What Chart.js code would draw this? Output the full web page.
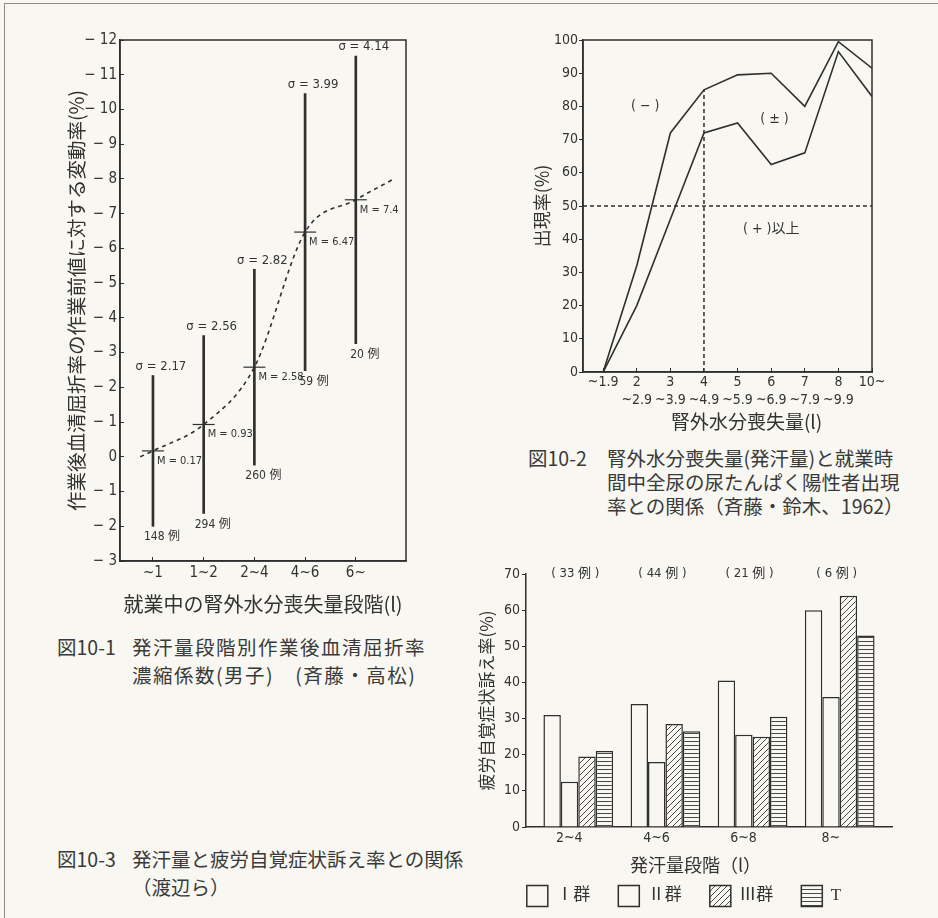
<!DOCTYPE html>
<html lang="ja">
<head>
<meta charset="utf-8">
<title>発汗量と生体反応</title>
<script src="https://cdn.jsdelivr.net/npm/chart.js@4.4.1/dist/chart.umd.min.js"></script>
<style>
  html, body { margin: 0; padding: 0; background: #f8f7f1; }
  #page { position: relative; width: 938px; height: 918px; overflow: hidden; background: #f8f7f1; }
  .frame { position: absolute; left: 4px; top: 3px; width: 940px; height: 920px;
           border-left: 1.5px solid #8c8c88; border-top: 1.5px solid #8c8c88; }
  canvas { position: absolute; }
  .cap { position: absolute; font-family: 'Noto Sans CJK JP', sans-serif; color: #3a3a3a;
         font-size: 19.5px; white-space: nowrap; line-height: 28px; }
</style>
</head>
<body>
<div id="page">
  <div class="frame"></div>

  <canvas id="fig1" width="380" height="600" style="left:40px;top:20px"></canvas>
  <canvas id="fig2" width="400" height="420" style="left:500px;top:20px"></canvas>
  <canvas id="fig3" width="430" height="362" style="left:476px;top:555px"></canvas>

  <div class="cap" style="left:57px;top:633px;">図10-1</div>
  <div class="cap" style="left:132px;top:633px;letter-spacing:1.5px;">発汗量段階別作業後血清屈折率<br>濃縮係数(男子)　(斉藤・高松)</div>

  <div class="cap" style="left:528px;top:446px;line-height:24px;">図10-2</div>
  <div class="cap" style="left:607px;top:446px;line-height:24px;">腎外水分喪失量(発汗量)と就業時<br>間中全尿の尿たんぱく陽性者出現<br>率との関係（斉藤・鈴木、1962）</div>

  <div class="cap" style="left:57px;top:845px;">図10-3</div>
  <div class="cap" style="left:132px;top:845px;">発汗量と疲労自覚症状訴え率との関係<br>（渡辺ら）</div>
</div>

<script>
// ---------- 図10-1: serum refractive index change by sweat stage ----------
const stageLabels = ['~1', '1~2', '2~4', '4~6', '6~'];
const meanChange = [0.17, 0.93, 2.58, 6.47, 7.4];
const sdChange = [2.17, 2.56, 2.82, 3.99, 4.14];
const stageCases = [148, 294, 260, 59, 20];
// hand-drawn trend curve through the stage means
const trendStage = [-0.25, 0, 1, 2, 3, 4, 4.75];
const trendChange = [0.0, 0.17, 0.93, 2.58, 6.47, 7.4, 8.0];

// ---------- 図10-2: urinary protein positive rate by water loss ----------
const lossTop = ['~1.9', '2', '3', '4', '5', '6', '7', '8', '10~'];
const lossBottom = ['', '~2.9', '~3.9', '~4.9', '~5.9', '~6.9', '~7.9', '~9.9', ''];
const rateTraceOrMore = [0, 32, 72, 85, 89.5, 90, 80, 99.5, 91.5];
const ratePositive = [0, 20, 46, 72, 75, 62.5, 66, 96.5, 83];
const referenceRate = 50;
const referenceStage = 3;

// ---------- 図10-3: fatigue complaint rate by sweat stage ----------
const sweatStages = ['2~4', '4~6', '6~8', '8~'];
const sweatCases = [33, 44, 21, 6];
const groupI = [31, 34, 40.5, 60];
const groupII = [12.5, 18, 25.5, 36];
const groupIII = [19.5, 28.5, 25, 64];
const groupTotal = [21, 26.5, 30.5, 53];

const INK = '#2f2f2f';
const TEXT = '#333333';
const PAPER = '#f8f7f1';
const NUM = "'Liberation Sans Narrow','DejaVu Sans Condensed','Noto Sans CJK JP',sans-serif";
const JP = "'Noto Sans CJK JP',sans-serif";
const LEGEND = "'Liberation Serif','Noto Sans CJK JP',serif";

Chart.defaults.color = TEXT;
Chart.defaults.animation = false;
Chart.defaults.events = [];
Chart.defaults.plugins.tooltip.enabled = false;

const fixWidth = w => s => { s.width = w; };
const fixHeight = h => s => { s.height = h; };
const indexTicks = list => s => { s.ticks = list.map((_, i) => ({ value: i })); };

// box around the plotting area
const plotFrame = {
  id: 'plotFrame',
  afterDraw(chart) {
    const { ctx, chartArea: a } = chart;
    ctx.save();
    ctx.strokeStyle = INK;
    ctx.lineWidth = 1.5;
    ctx.strokeRect(a.left, a.top, a.right - a.left, a.bottom - a.top);
    ctx.restore();
  }
};

// ---------- 図10-1 ----------
const stageNotes = {
  id: 'stageNotes',
  afterDatasetsDraw(chart) {
    const { ctx, scales: { x, y } } = chart;
    ctx.save();
    ctx.fillStyle = TEXT;
    ctx.textBaseline = 'middle';
    meanChange.forEach((m, i) => {
      const px = x.getPixelForValue(i);
      const top = y.getPixelForValue(m + sdChange[i]);
      const bottom = y.getPixelForValue(m - sdChange[i]);
      const mid = y.getPixelForValue(m);
      ctx.textAlign = 'center';
      ctx.font = '13px ' + NUM;
      ctx.fillText('σ = ' + sdChange[i].toFixed(2), px + 8, top - 9);
      ctx.font = '12px ' + NUM;
      ctx.fillText(stageCases[i] + ' 例', px + 9, bottom + 11);
      ctx.textAlign = 'left';
      ctx.font = '11px ' + NUM;
      ctx.fillText('M = ' + m, px + 4, mid + 10);
    });
    ctx.restore();
  }
};

new Chart(document.getElementById('fig1'), {
  type: 'bar',
  data: {
    datasets: [
      {
        type: 'line',
        data: trendStage.map((s, i) => ({ x: s, y: trendChange[i] })),
        borderColor: INK, borderWidth: 1.6, borderDash: [4, 4],
        pointRadius: 0, cubicInterpolationMode: 'monotone', fill: false
      },
      {
        type: 'scatter',
        data: meanChange.map((m, i) => ({ x: i, y: m })),
        pointStyle: 'line', pointRadius: 11, borderColor: INK, borderWidth: 1.2
      },
      {
        type: 'bar',
        data: meanChange.map((m, i) => ({ x: i, y: [m - sdChange[i], m + sdChange[i]] })),
        backgroundColor: INK, borderWidth: 0, barThickness: 2
      }
    ]
  },
  options: {
    responsive: false,
    layout: { padding: { top: 20, right: 14, bottom: 0, left: 0 } },
    plugins: { legend: { display: false } },
    scales: {
      x: {
        type: 'linear', min: -0.65, max: 4.99, offset: false,
        afterBuildTicks: indexTicks(stageLabels),
        afterFit: fixHeight(59),
        ticks: { callback: v => stageLabels[v], font: { family: NUM, size: 15 }, padding: 7, maxRotation: 0, autoSkip: false, color: TEXT },
        grid: { drawOnChartArea: false, tickLength: -4, color: INK, offset: false },
        border: { color: INK, width: 1.5 },
        title: { display: true, text: '就業中の腎外水分喪失量段階(l)', font: { family: JP, size: 20, lineHeight: 1.2 }, padding: { top: 0, bottom: 4 }, color: TEXT }
      },
      y: {
        min: -3, max: 12,
        afterFit: fixWidth(80),
        ticks: { stepSize: 1, callback: v => v === 0 ? '0' : '− ' + Math.abs(v), font: { family: NUM, size: 15 }, padding: 7, color: TEXT },
        grid: { drawOnChartArea: false, tickLength: -4, color: INK },
        border: { color: INK, width: 1.5 },
        title: { display: true, text: '作業後血清屈折率の作業前値に対する変動率(%)', font: { family: JP, size: 19.5, lineHeight: 1.2 }, padding: { top: 25, bottom: 0 }, color: TEXT }
      }
    }
  },
  plugins: [plotFrame, stageNotes]
});

// ---------- 図10-2 ----------
const regionNotes = [
  { text: '( − )', stage: 1.25, rate: 80 },
  { text: '( ± )', stage: 5.1, rate: 76 },
  { text: '( + )以上', stage: 5.0, rate: 43 }
];
const regionLabels = {
  id: 'regionLabels',
  afterDatasetsDraw(chart) {
    const { ctx, scales: { x, y } } = chart;
    ctx.save();
    ctx.fillStyle = TEXT;
    ctx.font = '14px ' + NUM;
    ctx.textAlign = 'center';
    ctx.textBaseline = 'middle';
    regionNotes.forEach(n => ctx.fillText(n.text, x.getPixelForValue(n.stage), y.getPixelForValue(n.rate)));
    ctx.restore();
  }
};

new Chart(document.getElementById('fig2'), {
  type: 'line',
  data: {
    datasets: [
      { data: rateTraceOrMore.map((r, i) => ({ x: i, y: r })), borderColor: INK, borderWidth: 1.6, pointRadius: 0, tension: 0, fill: false },
      { data: ratePositive.map((r, i) => ({ x: i, y: r })), borderColor: INK, borderWidth: 1.6, pointRadius: 0, tension: 0, fill: false },
      { data: [{ x: -0.6, y: referenceRate }, { x: lossTop.length - 1, y: referenceRate }], borderColor: INK, borderWidth: 1.3, borderDash: [4, 3], pointRadius: 0 },
      { data: [{ x: referenceStage, y: 0 }, { x: referenceStage, y: rateTraceOrMore[referenceStage] }], borderColor: INK, borderWidth: 1.5, borderDash: [4, 3], pointRadius: 0 }
    ]
  },
  options: {
    responsive: false,
    layout: { padding: { top: 20, right: 28, bottom: 0, left: 0 } },
    plugins: { legend: { display: false } },
    scales: {
      x: {
        type: 'linear', min: -0.6, max: 8,
        afterBuildTicks: indexTicks(lossTop),
        afterFit: fixHeight(68),
        ticks: { callback: v => [lossTop[v], lossBottom[v]], font: { family: NUM, size: 14, lineHeight: 1.3 }, padding: 5, maxRotation: 0, autoSkip: false, color: TEXT },
        grid: { drawOnChartArea: false, tickLength: -4, color: INK },
        border: { color: INK, width: 1.5 },
        title: { display: true, text: '　　腎外水分喪失量(l)', font: { family: JP, size: 19, lineHeight: 1.2 }, padding: { top: 0, bottom: 6.6 }, color: TEXT }
      },
      y: {
        min: 0, max: 100,
        afterFit: fixWidth(83),
        ticks: { stepSize: 10, font: { family: NUM, size: 14 }, padding: 1, color: TEXT },
        grid: { drawOnChartArea: false, tickLength: 4, color: INK },
        border: { color: INK, width: 1.5 },
        title: { display: true, text: '出現率(%)', font: { family: JP, size: 18, lineHeight: 1.2 }, padding: { top: 31, bottom: 0 }, color: TEXT }
      }
    }
  },
  plugins: [plotFrame, regionLabels]
});

// ---------- 図10-3 ----------
function hatch(kind) {
  const c = document.createElement('canvas');
  const size = kind === 'diagonal' ? 6 : 4;
  c.width = size; c.height = size;
  const g = c.getContext('2d');
  g.fillStyle = PAPER;
  g.fillRect(0, 0, size, size);
  g.strokeStyle = '#4a4a4a';
  g.lineWidth = 1;
  g.beginPath();
  if (kind === 'diagonal') {
    g.moveTo(-1, size + 1); g.lineTo(size + 1, -1);
    g.moveTo(-1, 1); g.lineTo(1, -1);
    g.moveTo(size - 1, size + 1); g.lineTo(size + 1, size - 1);
  } else {
    g.moveTo(0, 2.5); g.lineTo(size, 2.5);
  }
  g.stroke();
  return g.createPattern(c, 'repeat');
}

const caseLabels = {
  id: 'caseLabels',
  afterDatasetsDraw(chart) {
    const { ctx, scales: { x }, chartArea } = chart;
    ctx.save();
    ctx.fillStyle = TEXT;
    ctx.font = '13px ' + NUM;
    ctx.textAlign = 'center';
    ctx.textBaseline = 'middle';
    sweatCases.forEach((n, i) => ctx.fillText('( ' + n + ' 例 )', x.getPixelForValue(i) - 3, chartArea.top));
    ctx.restore();
  }
};

const barStyle = { borderColor: INK, borderWidth: 1.5, borderSkipped: 'start' };
new Chart(document.getElementById('fig3'), {
  type: 'bar',
  data: {
    datasets: [
      { label: 'Ⅰ群', data: groupI.map((v, i) => ({ x: i, y: v })), backgroundColor: PAPER, ...barStyle },
      { label: 'Ⅱ群', data: groupII.map((v, i) => ({ x: i, y: v })), backgroundColor: PAPER, ...barStyle },
      { label: 'Ⅲ群', data: groupIII.map((v, i) => ({ x: i, y: v })), backgroundColor: hatch('diagonal'), ...barStyle },
      { label: 'T', data: groupTotal.map((v, i) => ({ x: i, y: v })), backgroundColor: hatch('horizontal'), ...barStyle }
    ]
  },
  options: {
    responsive: false,
    categoryPercentage: 0.8,
    barPercentage: 1.0,
    layout: { padding: { top: 19, right: 14, bottom: 0.5, left: 0 } },
    plugins: {
      legend: {
        display: true, position: 'bottom',
        labels: { boxWidth: 21, boxHeight: 21, padding: 28, font: { family: LEGEND, size: 17 }, color: TEXT }
      }
    },
    scales: {
      x: {
        type: 'linear', min: -0.6, max: 3.6, offset: false,
        afterBuildTicks: indexTicks(sweatStages),
        afterFit: fixHeight(30.5),
        ticks: { callback: v => sweatStages[v], font: { family: NUM, size: 14, lineHeight: 1.3 }, padding: 2, labelOffset: -9, maxRotation: 0, autoSkip: false, color: TEXT },
        grid: { display: true, drawOnChartArea: false, drawTicks: false, color: INK },
        border: { color: INK, width: 1.5 },
        title: { display: true, text: '発汗量段階（l）　　', font: { family: JP, size: 18, lineHeight: 1.2 }, padding: { top: 0, bottom: -18 }, color: TEXT }
      },
      y: {
        min: 0, max: 70,
        afterFit: fixWidth(50),
        ticks: { stepSize: 10, font: { family: NUM, size: 14 }, padding: 2, color: TEXT },
        grid: { drawOnChartArea: false, tickLength: 4, color: INK },
        border: { color: INK, width: 1.5 },
        title: { display: true, text: '疲労自覚症状訴え率(%)', font: { family: JP, size: 17, lineHeight: 1.2 }, padding: { top: 0, bottom: 0 }, color: TEXT }
      }
    }
  },
  plugins: [caseLabels]
});
</script>
</body>
</html>
